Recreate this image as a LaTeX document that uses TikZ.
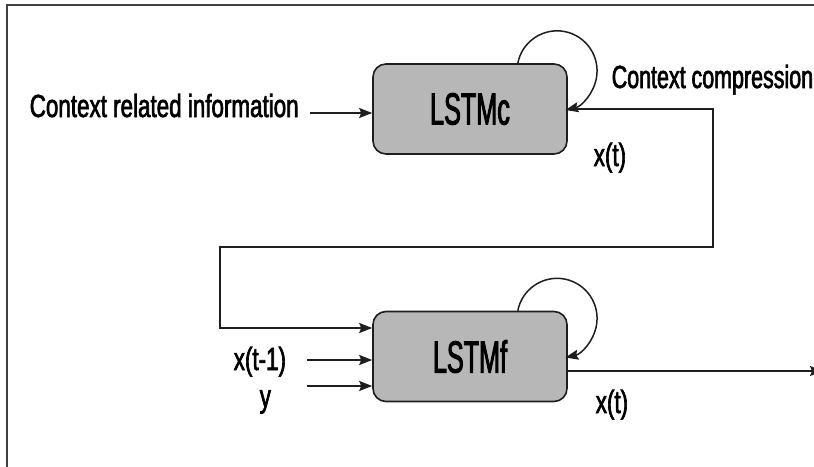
\documentclass[tikz,border=0pt]{standalone}
\usepackage{fontspec}
\setmainfont[FakeStretch=0.70,FakeBold=2]{Liberation Sans}
\newfontfamily\boxfont[FakeStretch=0.56,FakeBold=2]{Liberation Sans}
\newfontfamily\narrowfont[FakeStretch=0.67,FakeBold=2]{Liberation Sans}
\usetikzlibrary{arrows.meta}
\definecolor{boxgray}{HTML}{B7B7B7}
\definecolor{ink}{HTML}{1E1E1E}

\begin{document}
\begin{tikzpicture}[x=1pt,y=-1pt,
  line width=1.5pt, draw=ink,
  >={Stealth[length=13pt,width=10pt,inset=2pt]},
  lstm/.style={draw=ink, fill=boxgray, rounded corners=13pt, line width=1.6pt,
    minimum width=194pt, minimum height=90pt, inner sep=0pt,
    font=\boxfont\fontsize{45}{50}\selectfont},
  lbl/.style={anchor=base west, inner sep=0pt, text=black,
    font=\fontsize{32}{36}\selectfont},
  wire/.style={draw=ink, line width=1.5pt},
  frameline/.style={draw=ink!85, line width=1.6pt}]
\useasboundingbox (0,0) rectangle (814,466);

% outer frame (only top and left edges lie in view)
\draw[frameline] (7,470) -- (7,5) -- (820,5);

% the two LSTM blocks
\node[lstm] (c) at (470,109) {LSTMc};
\node[lstm] (f) at (470,356.5) {LSTMf};

% labels
\node[lbl] (info) at (29,117) {Context related information};
\node[lbl, font=\narrowfont\fontsize{32}{36}\selectfont] (comp) at (611,88) {Context compression};
\node[lbl] (xc) at (593,166) {x(t)};
\node[lbl] (xf) at (595,413) {x(t)};
\node[lbl] (xprev) at (233,370) {x(t-1)};
\node[lbl] (yin) at (259,407) {y};

% self loops
\draw[wire,->] ([xshift=-50pt]c.north east) arc[start angle=191, end angle=438, radius=40];
\draw[wire,->] ([xshift=-50pt]f.north east) arc[start angle=191, end angle=438, radius=40];

% input arrows
\coordinate (ctxin) at (310,113);
\coordinate (xin) at (307,360);
\coordinate (yarr) at (307,386);
\draw[wire,->] (ctxin) -- (ctxin -| c.west);
\draw[wire,->] (xin) -- (xin -| f.west);
\draw[wire,->] (yarr) -- (yarr -| f.west);

% compressed context fed from LSTMc into LSTMf
\coordinate (k1) at (713,247);
\coordinate (k2) at (220,328);
\draw[wire,->] (c.east) -| (k1) -| (k2) -- (k2 -| f.west);

% output of LSTMf
\coordinate (outp) at (823,371);
\draw[wire,->] (outp -| f.east) -- (outp);
\end{tikzpicture}
\end{document}
